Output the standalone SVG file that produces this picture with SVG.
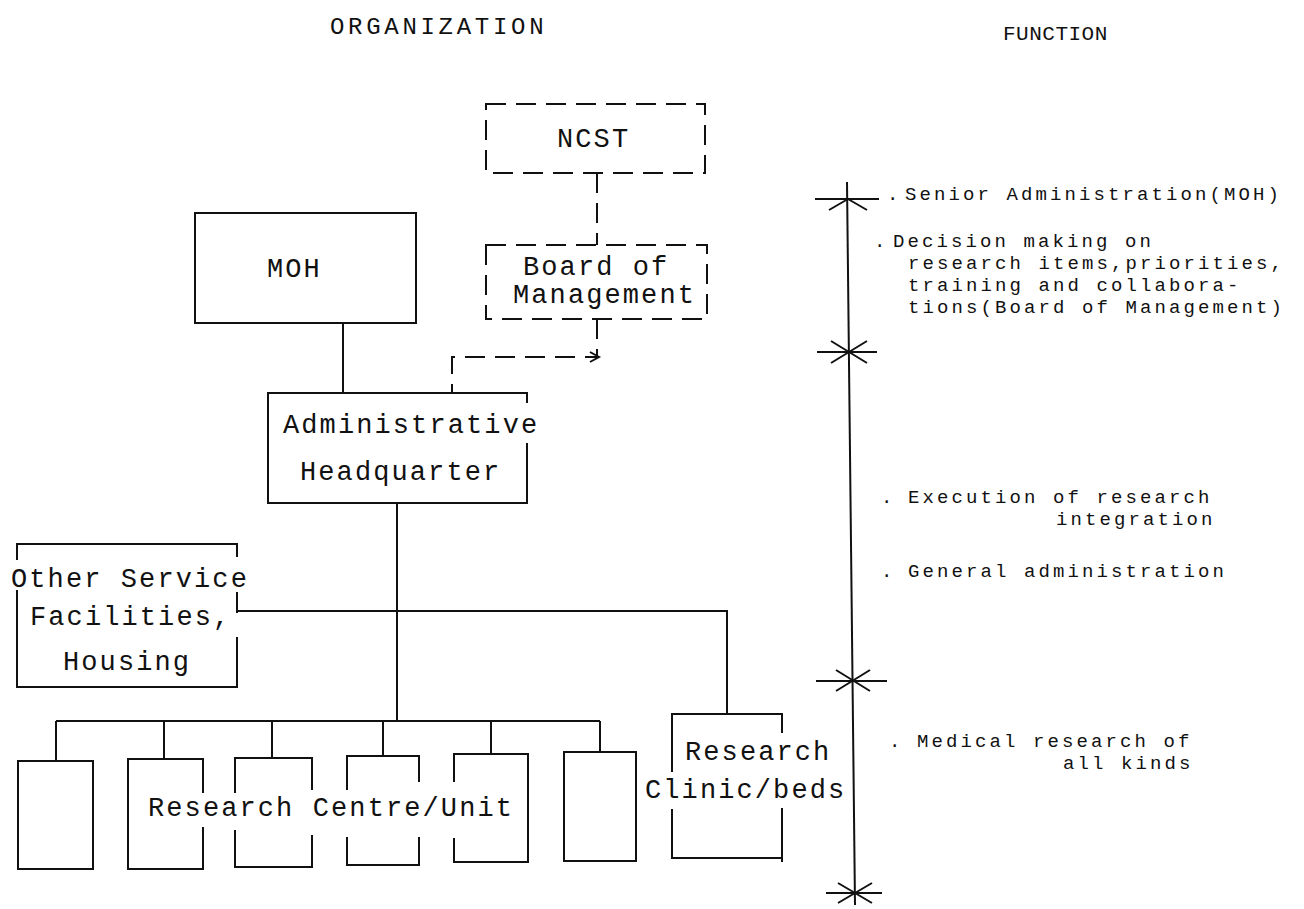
<svg xmlns="http://www.w3.org/2000/svg" width="1304" height="909" viewBox="0 0 1304 909">
<style>
.t{font-family:"Liberation Mono","DejaVu Sans Mono",monospace;font-size:27px;letter-spacing:2.1px;fill:#111}
.f{font-family:"Liberation Mono","DejaVu Sans Mono",monospace;font-size:19px;letter-spacing:3.1px;fill:#111}
.h{font-family:"Liberation Mono","DejaVu Sans Mono",monospace;font-size:24px;letter-spacing:3.7px;fill:#111}
.s{fill:none;stroke:#111;stroke-width:2}
.d{fill:none;stroke:#111;stroke-width:2;stroke-dasharray:20 10}
</style>
<rect width="1304" height="909" fill="#fff"/>
<text class="h" x="330" y="34">ORGANIZATION</text>
<text class="f" x="1003" y="40" style="font-size:21px;letter-spacing:0.5px">FUNCTION</text>

<g id="connectors">
<path class="s" d="M343,323 V393"/>
<path class="d" d="M597,173 V245"/>
<path class="d" d="M597,319 V357 H452 V393"/>
<path class="s" d="M590,352 L599,357 L590,362"/>
<path class="s" d="M397,503 V720"/>
<path class="s" d="M237,611 H727 V714"/>
<path class="s" d="M56,721 H600"/>
<path class="s" d="M56,721 V761 M164,721 V759 M272,721 V758 M383,721 V756 M491,721 V754 M600,721 V752"/>
</g>

<g id="ncst">
<rect class="d" x="486" y="104" width="219" height="69"/>
<text class="t" x="557" y="147">NCST</text>
</g>
<g id="board">
<rect class="d" x="486" y="245" width="221" height="74"/>
<text class="t" x="523" y="275">Board of</text>
<text class="t" x="513" y="303">Management</text>
</g>
<g id="moh">
<rect class="s" x="195" y="213" width="221" height="110"/>
<text class="t" x="267" y="277">MOH</text>
</g>
<g id="admin">
<path class="s" d="M527,403 V393 H268 V503 H527 V443"/>
<text class="t" x="283" y="433">Administrative</text>
<text class="t" x="300" y="480">Headquarter</text>
</g>
<g id="other">
<path class="s" d="M17,560 V544 H237 V557 M237,592 V613 M237,637 V687 H17 V590"/>
<text class="t" x="11" y="587">Other Service</text>
<text class="t" x="30" y="625">Facilities,</text>
<text class="t" x="63" y="670">Housing</text>
</g>
<g id="unit1"><rect class="s" x="18" y="761" width="75" height="108"/></g>
<g id="unit2"><path class="s" d="M203,793 V759 H128 V869 H203 V827"/></g>
<g id="unit3"><path class="s" d="M235,793 V758 H312 V790 M312,835 V867 H235 V830"/></g>
<g id="unit4"><path class="s" d="M347,790 V756 H419 V782 M419,837 V865 H347 V837"/></g>
<g id="unit5"><path class="s" d="M454,782 V754 H528 V862 H454 V838"/></g>
<g id="unit6"><rect class="s" x="564" y="752" width="72" height="109"/></g>
<g id="units-label"><text class="t" x="148" y="816">Research Centre/Unit</text></g>
<g id="clinic">
<path class="s" d="M672,772 V714 H782 V733 M782,808 V862 M782,858 H672 V809"/>
<text class="t" x="685" y="760">Research</text>
<text class="t" x="645" y="798">Clinic/beds</text>
</g>

<g id="function-axis">
<path class="s" d="M847,182 L855,905"/>
<path class="s" d="M815,199 H879 M848,199 L829,210 M848,199 L867,210"/>
<path class="s" d="M817,352 H877 M831,341 L867,363 M867,341 L831,363"/>
<path class="s" d="M816,681 H887 M836,670 L870,691 M870,670 L836,691"/>
<path class="s" d="M826,893 H882 M838,883 L872,903 M872,883 L838,903"/>
</g>
<g id="function-text">
<text class="f" x="887" y="200">.<tspan x="905">Senior Administration(MOH)</tspan></text>
<text class="f" x="874" y="247">.<tspan x="893">Decision making on</tspan></text>
<text class="f" x="908" y="269">research items,priorities,</text>
<text class="f" x="908" y="291">training and collabora-</text>
<text class="f" x="908" y="313">tions(Board of Management)</text>
<text class="f" x="881" y="503">.<tspan x="908">Execution of research</tspan></text>
<text class="f" x="1056" y="525">integration</text>
<text class="f" x="881" y="577">.<tspan x="908">General administration</tspan></text>
<text class="f" x="889" y="747">.<tspan x="917">Medical research of</tspan></text>
<text class="f" x="1063" y="769">all kinds</text>
</g>
</svg>
